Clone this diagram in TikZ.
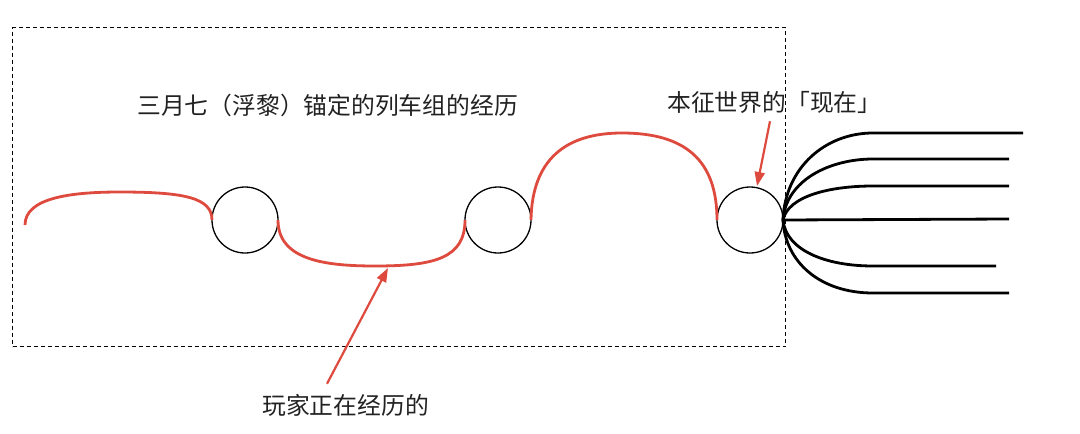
\documentclass[tikz,border=0pt]{standalone}
\usepackage{fontspec}
\newfontfamily\cjk{Noto Sans CJK SC}
\usetikzlibrary{arrows.meta}
\definecolor{redline}{HTML}{DF4A3E}
\definecolor{txt}{HTML}{222222}
\tikzset{
  world/.style={circle,draw=black,line width=1.3pt,minimum size=66pt,inner sep=0pt,outer sep=0pt},
  history/.style={draw=redline,line width=2.8pt},
  branch/.style={draw=black,line width=2.8pt},
  label/.style={font=\cjk\fontsize{23.8}{27}\selectfont,text=txt,inner sep=0pt},
  pointer/.style={draw=redline,line width=2.2pt,-{Triangle[length=14pt,width=10pt]}},
  frame/.style={draw=black,line width=1.1pt,dash pattern=on 4pt off 3pt}
}
\begin{document}
\begin{tikzpicture}[x=1pt,y=-1pt]
\useasboundingbox[fill=white] (0,0) rectangle (1080,434);
% dashed frame
\node[frame,minimum width=773pt,minimum height=319pt,inner sep=0pt,anchor=north west] (frame) at (12,27) {};
% circles
\node[world] (c1) at (245,220) {};
\node[world] (c2) at (498,220) {};
\node[world] (c3) at (750,220) {};
\coordinate (start) at (25,225);
% red histories
\draw[history] (start) .. controls (25,198) and (70,192) .. (120,192)
  .. controls (185,192) and (212,198) .. (c1.west);
\draw[history] (c1.east) .. controls (278,260) and (325,266) .. (375,266)
  .. controls (435,266) and (465,258) .. (c2.west);
\draw[history] (c2.east) .. controls (532,160) and (565,133) .. (622,133)
  .. controls (685,133) and (717,160) .. (c3.west);
% fan of futures
\coordinate (f1) at (1023,133);
\coordinate (f2) at (1009,159);
\coordinate (f3) at (1009,186);
\coordinate (f4) at (1009,219);
\coordinate (f5) at (996,266);
\coordinate (f6) at (1009,293);
\draw[branch] (c3.east) .. controls (785,168) and (825,133) .. (873,133) -- (f1);
\draw[branch] (c3.east) .. controls (786,180) and (830,159) .. (873,159) -- (f2);
\draw[branch] (c3.east) .. controls (788,196) and (830,186) .. (873,186) -- (f3);
\draw[branch] (c3.east) -- (f4);
\draw[branch] (c3.east) .. controls (786,250) and (825,266) .. (873,266) -- (f5);
\draw[branch] (c3.east) .. controls (785,262) and (820,293) .. (873,293) -- (f6);
% labels
\node[label,anchor=west] (t1) at (137,105) {三月七（浮黎）锚定的列车组的经历};
\node[label,anchor=west] (t2) at (667,102) {本征世界的「现在」};
\node[label,anchor=west] (t3) at (262,405) {玩家正在经历的};
\coordinate (a1) at (388,268);
\coordinate (a2) at (757,186);
\draw[pointer] ([xshift=65pt,yshift=10pt]t3.north west) -- (a1);
\draw[pointer] ([xshift=103pt,yshift=-8pt]t2.south west) -- (a2);
\end{tikzpicture}
\end{document}
